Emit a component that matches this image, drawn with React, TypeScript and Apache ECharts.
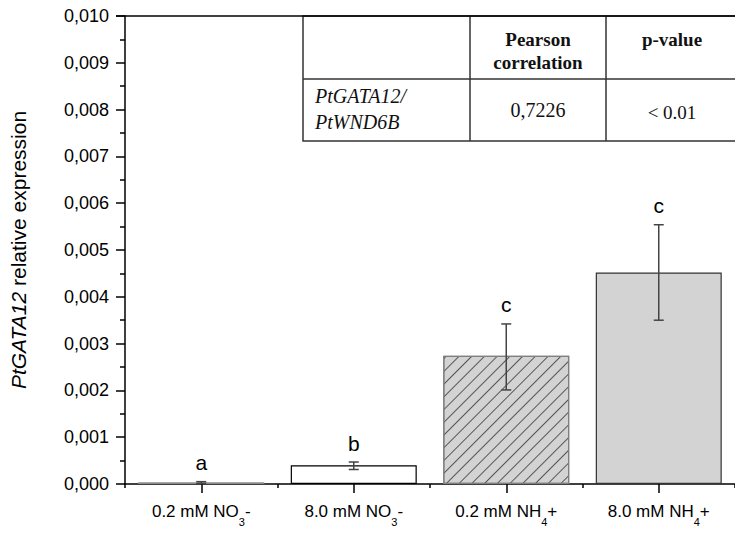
import React, { useEffect, useRef } from "react";
import * as echarts from "echarts";

const categories = ["0.2 mM NO3-", "8.0 mM NO3-", "0.2 mM NH4+", "8.0 mM NH4+"];
const means = [0.00003, 0.0004, 0.00274, 0.00452];
const errLow = [0.00001, 0.00031, 0.00201, 0.0035];
const errHigh = [0.00005, 0.00047, 0.00342, 0.00554];
const letters = ["a", "b", "c", "c"];
const yTicks = { min: 0, max: 0.01, interval: 0.001 };

const hatch = {
  symbol: "rect",
  symbolSize: 1,
  dashArrayX: [[1, 0]],
  dashArrayY: [1, 8],
  rotation: -Math.PI / 4,
  color: "#555",
};

const barStyles = [
  { color: "#d3d3d3", borderColor: "#8c8c8c", borderWidth: 1.2, decal: hatch },
  { color: "#ffffff", borderColor: "#000000", borderWidth: 1.2 },
  { color: "#d3d3d3", borderColor: "#808080", borderWidth: 1.2, decal: hatch },
  { color: "#d3d3d3", borderColor: "#333333", borderWidth: 1.2 },
];

export default function App() {
  const ref = useRef<HTMLDivElement>(null);
  useEffect(() => {
    document.body.style.margin = "0";
    const chart = echarts.init(ref.current!, null, { renderer: "svg" });
    const serif = "Liberation Serif";
    const tLeft = 303, tC1 = 470, tC2 = 606, tRight = 770, tTop = 16, tMid = 79, tBot = 141;
    const option: any = {
      animation: false,
      backgroundColor: "#ffffff",
      grid: { left: 116, top: 16, width: 629, height: 468, containLabel: false },
      xAxis: [
        {
          type: "category",
          data: categories,
          position: "bottom",
          axisLine: { show: true, lineStyle: { color: "#000", width: 1.5 } },
          axisTick: { show: true, alignWithLabel: true, length: 9, lineStyle: { color: "#000", width: 1.5 } },
          axisLabel: {
            interval: 0,
            hideOverlap: false,
            margin: 19,
            color: "#000",
            fontSize: 17,
            fontFamily: "Liberation Sans",
            formatter: (v: string) => v.replace(/(NO|NH)(\d)/, "$1{s|$2}"),
            rich: {
              s: { fontSize: 11, lineHeight: 11, padding: [20, 0, 0, 0], fontFamily: "Liberation Sans", color: "#000" },
            },
          },
          splitLine: { show: false },
        },
        {
          type: "category",
          data: categories,
          position: "bottom",
          gridIndex: 0,
          axisLine: { show: false },
          axisTick: { show: true, alignWithLabel: false, interval: 0, length: 4, lineStyle: { color: "#000", width: 1.5 } },
          axisLabel: { show: false },
          splitLine: { show: false },
        },
      ],
      yAxis: {
        type: "value",
        min: yTicks.min,
        max: yTicks.max,
        interval: yTicks.interval,
        name: "{i|PtGATA12} relative expression",
        nameLocation: "middle",
        nameGap: 96,
        nameTextStyle: {
          fontSize: 21,
          fontFamily: "Liberation Sans",
          color: "#000",
          rich: { i: { fontStyle: "italic", fontSize: 21, fontFamily: "Liberation Sans", color: "#000" } },
        },
        axisLine: { show: true, lineStyle: { color: "#000", width: 1.5 } },
        axisTick: { show: true, length: 9, lineStyle: { color: "#000", width: 1.5 } },
        minorTick: { show: true, splitNumber: 2, length: 5, lineStyle: { color: "#000", width: 1.5 } },
        axisLabel: {
          margin: 16,
          color: "#000",
          fontSize: 18,
          fontFamily: "Liberation Sans",
          formatter: (v: number) => v.toFixed(3).replace(".", ","),
        },
        splitLine: { show: false },
      },
      series: [
        {
          type: "bar",
          barWidth: 126,
          data: means.map((m, i) => ({ value: m, itemStyle: barStyles[i] })),
          z: 2,
        },
        {
          type: "custom",
          z: 5,
          data: means.map((_, i) => [i, errLow[i], errHigh[i], letters[i]]),
          renderItem: (params: any, api: any) => {
            const i = api.value(0);
            const lo = api.coord([i, api.value(1)]);
            const hi = api.coord([i, api.value(2)]);
            const cap = 5;
            const st = { stroke: "#444", lineWidth: 1.5 };
            return {
              type: "group",
              children: [
                { type: "line", shape: { x1: lo[0], y1: lo[1], x2: hi[0], y2: hi[1] }, style: st },
                { type: "line", shape: { x1: lo[0] - cap, y1: lo[1], x2: lo[0] + cap, y2: lo[1] }, style: st },
                { type: "line", shape: { x1: hi[0] - cap, y1: hi[1], x2: hi[0] + cap, y2: hi[1] }, style: st },
                {
                  type: "text",
                  style: {
                    text: letters[i],
                    x: hi[0],
                    y: hi[1] - 19,
                    textAlign: "center",
                    textVerticalAlign: "middle",
                    fontSize: 21,
                    fontFamily: "Liberation Sans",
                    fill: "#000",
                  },
                },
              ],
            };
          },
        },
      ],
      graphic: [
        { type: "line", shape: { x1: 116, y1: 16, x2: 735, y2: 16 }, style: { stroke: "#000", lineWidth: 1.5 }, z: 10 },
        {
          type: "group",
          z: 20,
          children: [
            { type: "rect", shape: { x: tLeft, y: tTop, width: tRight - tLeft, height: tBot - tTop }, style: { fill: "#fff", stroke: "#333", lineWidth: 1.5 } },
            { type: "line", shape: { x1: tLeft, y1: tMid, x2: tRight, y2: tMid }, style: { stroke: "#333", lineWidth: 1.5 } },
            { type: "line", shape: { x1: tC1, y1: tTop, x2: tC1, y2: tBot }, style: { stroke: "#333", lineWidth: 1.5 } },
            { type: "line", shape: { x1: tC2, y1: tTop, x2: tC2, y2: tBot }, style: { stroke: "#333", lineWidth: 1.5 } },
            { type: "text", style: { text: "Pearson", x: 538, y: 39, textAlign: "center", textVerticalAlign: "middle", fontSize: 19, fontWeight: "bold", fontFamily: serif, fill: "#111" } },
            { type: "text", style: { text: "correlation", x: 538, y: 62, textAlign: "center", textVerticalAlign: "middle", fontSize: 19, fontWeight: "bold", fontFamily: serif, fill: "#111" } },
            { type: "text", style: { text: "p-value", x: 672, y: 39, textAlign: "center", textVerticalAlign: "middle", fontSize: 19, fontWeight: "bold", fontFamily: serif, fill: "#111" } },
            { type: "text", style: { text: "PtGATA12/", x: 315, y: 96, textAlign: "left", textVerticalAlign: "middle", fontSize: 20, fontStyle: "italic", fontFamily: serif, fill: "#111" } },
            { type: "text", style: { text: "PtWND6B", x: 315, y: 122, textAlign: "left", textVerticalAlign: "middle", fontSize: 20, fontStyle: "italic", fontFamily: serif, fill: "#111" } },
            { type: "text", style: { text: "0,7226", x: 538, y: 110, textAlign: "center", textVerticalAlign: "middle", fontSize: 20, fontFamily: serif, fill: "#111" } },
            { type: "text", style: { text: "< 0.01", x: 672, y: 112, textAlign: "center", textVerticalAlign: "middle", fontSize: 19, fontFamily: serif, fill: "#111" } },
          ],
        },
      ],
    };
    chart.setOption(option);
    return () => chart.dispose();
  }, []);
  return <div ref={ref} style={{ width: 735, height: 535, position: "absolute", left: 0, top: 0 }} />;
}
